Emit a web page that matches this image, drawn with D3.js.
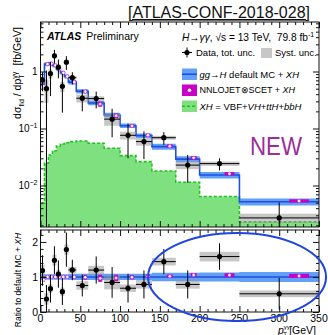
<!DOCTYPE html>
<html>
<head>
<meta charset="utf-8">
<script src="https://cdn.jsdelivr.net/npm/d3@7"></script>
<style>
  body { margin: 0; background: #fff; }
  svg { display: block; font-family: "Liberation Sans", Arial, Helvetica, sans-serif; }
</style>
</head>
<body>
<svg id="chart" width="328" height="335"></svg>
<script>
// pT(gamma gamma) bins [GeV] and values in fb/GeV
const binEdges = [0, 5, 10, 15, 20, 25, 30, 35, 45, 60, 80, 100, 120, 140, 170, 200, 250, 350];
const dataXs = [0.71, 0.50, 0.92, 1.89, 1.19, 0.55, 1.46, 0.78, 0.34, 0.335, 0.146, 0.076, 0.059, 0.069, 0.0228, 0.0242, 0.0027];
const dataTot = [0.26, 0.54, 0.55, 0.51, 0.43, 0.36, 0.40, 0.19, 0.14, 0.109, 0.076, 0.046, 0.030, 0.0173, 0.0116, 0.0058, 0.00234];
const dataSys = [0.10, 0.22, 0.17, 0.20, 0.13, 0.11, 0.12, 0.058, 0.054, 0.034, 0.034, 0.012, 0.009, 0.0053, 0.0035, 0.0021, 0.0005];
const defaultMC = [0.60, 1.35, 1.38, 1.28, 1.10, 0.95, 0.82, 0.65, 0.45, 0.28, 0.173, 0.112, 0.075, 0.048, 0.029, 0.0153, 0.0052];
const defaultMCUnc = [0.054, 0.108, 0.11, 0.10, 0.088, 0.076, 0.066, 0.058, 0.040, 0.025, 0.0156, 0.010, 0.0068, 0.0058, 0.0035, 0.002, 0.00073];
const nnlojet = [0.552, 1.35, 1.38, 1.28, 1.10, 0.95, 0.82, 0.65, 0.446, 0.269, 0.168, 0.111, 0.0765, 0.049, 0.0307, 0.0161, 0.00536];
const nnlojetUnc = [0.03, 0.027, 0.028, 0.026, 0.022, 0.019, 0.016, 0.033, 0.031, 0.028, 0.0156, 0.0067, 0.0038, 0.002, 0.0015, 0.0008, 0.0003];
const xhOther = [0.0049, 0.0245, 0.0343, 0.0408, 0.0494, 0.0536, 0.0562, 0.0588, 0.0605, 0.055, 0.045, 0.0334, 0.0262, 0.018, 0.0114, 0.0064, 0.0023];

const xTicks = [0, 50, 100, 150, 200, 250, 300, 350];
const yTopTicks = [0.01, 0.1, 1];
const yTopLabels = [["10", "\u22122"], ["10", "\u22121"], ["1", ""]];
const yRatioTicks = [0, 1, 2];

const col = {
  band: "#62a0f7", line: "#1f4fe0", green: "#7fe07f", greenLine: "#1ec41e",
  magenta: "#c800c8", syst: "#999", ellipse: "#1f45e0", newText: "#9a2f9a"
};
const NB = "\u00a0";

const svg = d3.select("#chart");
const x = d3.scaleLinear().domain([0, 350]).range([40.5, 319]);
const yTop = d3.scaleLog().domain([0.00187, 7.39]).range([227, 22]);
const yRat = d3.scaleLinear().domain([0, 2.34]).range([312, 230]);

const bins = dataXs.map((v, i) => ({ i, lo: binEdges[i], hi: binEdges[i + 1] }));
const stepPts = vals => bins.flatMap(b => [[b.lo, vals[b.i]], [b.hi, vals[b.i]]]);

const defs = svg.append("defs");
function clip(id, y) {
  defs.append("clipPath").attr("id", id).append("rect")
    .attr("x", x.range()[0]).attr("y", y.range()[1])
    .attr("width", x.range()[1] - x.range()[0])
    .attr("height", y.range()[0] - y.range()[1]);
}
clip("clipTop", yTop);
clip("clipRat", yRat);

function drawPanel(g, y, floor, P) {
  const Y = v => y(Math.max(v, floor));

  const band = bins.flatMap(b => {
    const lo = P.mc[b.i] - P.mcU[b.i], hi = P.mc[b.i] + P.mcU[b.i];
    return [[b.lo, lo, hi], [b.hi, lo, hi]];
  });
  g.append("path").datum(band)
    .attr("d", d3.area().x(d => x(d[0])).y0(d => Y(d[1])).y1(d => Y(d[2])))
    .attr("fill", col.band);
  g.append("path").datum(stepPts(P.mc))
    .attr("d", d3.line().x(d => x(d[0])).y(d => Y(d[1])))
    .attr("fill", "none").attr("stroke", col.line).attr("stroke-width", 1.6);

  // systematic boxes
  g.selectAll("rect.sys").data(bins).join("rect").attr("class", "sys")
    .attr("x", b => x(b.lo)).attr("width", b => x(b.hi) - x(b.lo))
    .attr("y", b => Y(P.data[b.i] + P.sys[b.i]))
    .attr("height", b => Y(P.data[b.i] - P.sys[b.i]) - Y(P.data[b.i] + P.sys[b.i]))
    .attr("fill", col.syst).attr("opacity", 0.55);

  // NNLOJET boxes, shifted by a quarter bin
  const nn = bins.map(b => {
    const cx = x((b.lo + b.hi) / 2 + (b.hi - b.lo) / 4);
    const hw = Math.max((x(b.hi) - x(b.lo)) / 8, 1.6);
    const y1 = Y(P.nnlo[b.i] + P.nnloU[b.i]), y0 = Y(P.nnlo[b.i] - P.nnloU[b.i]);
    const yc = Y(P.nnlo[b.i]);
    const h = Math.max(y0 - y1, 3.2);
    const top = (y0 - y1) >= 3.2 ? y1 : yc - h / 2;
    return { cx, hw, top, h, yc };
  });
  g.selectAll("rect.nn").data(nn).join("rect").attr("class", "nn")
    .attr("x", d => d.cx - d.hw).attr("width", d => 2 * d.hw)
    .attr("y", d => d.top).attr("height", d => d.h)
    .attr("fill", col.magenta);
  g.selectAll("circle.nn").data(nn).join("circle").attr("class", "nn")
    .attr("cx", d => d.cx).attr("cy", d => d.yc).attr("r", 1.6)
    .attr("fill", "#fff").attr("stroke", col.magenta).attr("stroke-width", 0.4);

  // data with total uncertainty
  g.selectAll("line.ex").data(bins).join("line").attr("class", "ex")
    .attr("x1", b => x(b.lo)).attr("x2", b => x(b.hi))
    .attr("y1", b => Y(P.data[b.i])).attr("y2", b => Y(P.data[b.i]))
    .attr("stroke", "#000").attr("stroke-width", 1);
  g.selectAll("line.ey").data(bins).join("line").attr("class", "ey")
    .attr("x1", b => x((b.lo + b.hi) / 2)).attr("x2", b => x((b.lo + b.hi) / 2))
    .attr("y1", b => Y(P.data[b.i] - P.tot[b.i])).attr("y2", b => Y(P.data[b.i] + P.tot[b.i]))
    .attr("stroke", "#000").attr("stroke-width", 1);
  g.selectAll("circle.pt").data(bins).join("circle").attr("class", "pt")
    .attr("cx", b => x((b.lo + b.hi) / 2)).attr("cy", b => Y(P.data[b.i])).attr("r", 2.6)
    .attr("fill", "#000");
}

// ---- top panel
const gTop = svg.append("g").attr("clip-path", "url(#clipTop)");
const floorTop = yTop.domain()[0];
gTop.append("path").datum(stepPts(xhOther))
  .attr("d", d3.area().x(d => x(d[0])).y0(yTop(floorTop)).y1(d => yTop(d[1])))
  .attr("fill", col.green);
gTop.append("path").datum([[0, floorTop], ...stepPts(xhOther), [350, floorTop]])
  .attr("d", d3.line().x(d => x(d[0])).y(d => yTop(d[1])))
  .attr("fill", "none").attr("stroke", col.greenLine).attr("stroke-width", 1.6)
  .attr("stroke-dasharray", "3,2");

drawPanel(gTop, yTop, floorTop, {
  mc: defaultMC, mcU: defaultMCUnc, data: dataXs, tot: dataTot, sys: dataSys,
  nnlo: nnlojet, nnloU: nnlojetUnc
});

// ---- ratio panel
const rel = arr => arr.map((v, i) => v / defaultMC[i]);
const gRat = svg.append("g").attr("clip-path", "url(#clipRat)");
drawPanel(gRat, yRat, -1, {
  mc: defaultMC.map(() => 1), mcU: rel(defaultMCUnc), data: rel(dataXs), tot: rel(dataTot),
  sys: rel(dataSys), nnlo: rel(nnlojet), nnloU: rel(nnlojetUnc)
});

// ---- frames and ticks
function frame(y) {
  svg.append("rect").attr("x", x.range()[0]).attr("y", y.range()[1])
    .attr("width", x.range()[1] - x.range()[0]).attr("height", y.range()[0] - y.range()[1])
    .attr("fill", "none").attr("stroke", "#111").attr("stroke-width", 1);
}
function addAxis(axis, tx, ty) {
  svg.append("g").attr("transform", `translate(${tx},${ty})`).call(axis)
    .call(s => s.select(".domain").remove())
    .call(s => s.selectAll("text").remove())
    .call(s => s.selectAll("line").attr("stroke", "#111"));
}
function ticks(y, yMajor, yMinor) {
  const [x0, x1] = x.range(), [yb, yt] = y.range();
  const xMinor = d3.range(0, 351, 10).filter(v => v % 50 !== 0);
  [[d3.axisBottom, yb], [d3.axisTop, yt]].forEach(([ax, ty]) => {
    addAxis(ax(x).tickValues(xTicks).tickSize(-6), 0, ty);
    addAxis(ax(x).tickValues(xMinor).tickSize(-3), 0, ty);
  });
  [[d3.axisLeft, x0], [d3.axisRight, x1]].forEach(([ax, tx]) => {
    addAxis(ax(y).tickValues(yMajor).tickSize(-6), tx, 0);
    addAxis(ax(y).tickValues(yMinor).tickSize(-3), tx, 0);
  });
}
frame(yTop);
frame(yRat);
ticks(yTop, yTopTicks, yTop.ticks().filter(v => !yTopTicks.some(t => Math.abs(t - v) / t < 1e-6)));
ticks(yRat, yRatioTicks, d3.range(0.2, 2.34, 0.2).filter(v => Math.abs(v - Math.round(v)) > 1e-6));

// ---- tick labels
yTopTicks.forEach((t, i) => {
  const tx = svg.append("text").attr("x", 37.5).attr("y", yTop(t) + 3.5)
    .attr("text-anchor", "end").attr("font-size", 10);
  tx.append("tspan").text(yTopLabels[i][0]);
  if (yTopLabels[i][1]) tx.append("tspan").attr("font-size", 7).attr("dy", -4).text(yTopLabels[i][1]);
});
yRatioTicks.forEach(t => {
  svg.append("text").attr("x", 38).attr("y", yRat(t) + 3.8).attr("text-anchor", "end")
    .attr("font-size", 10.5).text(t);
});
xTicks.forEach(t => {
  svg.append("text").attr("x", x(t)).attr("y", 321.5).attr("text-anchor", "middle")
    .attr("font-size", 10.5).text(t);
});

// ---- axis titles
const xt = svg.append("text").attr("x", 278).attr("y", 333.5).attr("font-size", 10.5);
xt.append("tspan").attr("font-style", "italic").text("p");
xt.append("tspan").attr("font-size", 6).attr("dy", -4.5).text("\u03b3\u03b3");
xt.append("tspan").attr("font-size", 6).attr("dx", -6.5).attr("dy", 6.5).text("T");
svg.append("text").attr("x", 316).attr("y", 333.5).attr("text-anchor", "end")
  .attr("font-size", 10.5).text("[GeV]");

const yt1 = svg.append("text").attr("transform", "translate(21,73) rotate(-90)")
  .attr("text-anchor", "middle").attr("font-size", 10.5);
yt1.append("tspan").text("d\u03c3");
yt1.append("tspan").attr("font-size", 7).attr("dy", 2.5).text("fid");
yt1.append("tspan").attr("dy", -2.5).text(NB + "/" + NB + "dp");
yt1.append("tspan").attr("font-size", 7).attr("dy", -4.5).text("\u03b3\u03b3");
yt1.append("tspan").attr("font-size", 7).attr("dx", -7).attr("dy", 7).text("T");
yt1.append("tspan").attr("dx", 3).attr("dy", -2.5).text(NB + NB + "[fb/GeV]");

const yt2 = svg.append("text").attr("transform", "translate(21,280) rotate(-90)")
  .attr("text-anchor", "middle").attr("font-size", 8.5);
yt2.append("tspan").text("Ratio to default MC +" + NB);
yt2.append("tspan").attr("font-style", "italic").text("XH");

// ---- title and labels
svg.append("text").attr("x", 310).attr("y", 18).attr("text-anchor", "end")
  .attr("font-size", 16).style("text-decoration", "underline").attr("fill", "#111")
  .text("[ATLAS-CONF-2018-028]");

const atl = svg.append("text").attr("x", 47).attr("y", 40).attr("font-size", 10.5);
atl.append("tspan").attr("font-weight", "bold").attr("font-style", "italic").text("ATLAS");
atl.append("tspan").attr("dx", 5).text("Preliminary");

const hdr = svg.append("text").attr("x", 182).attr("y", 41).attr("font-size", 10.2);
hdr.append("tspan").attr("font-style", "italic").text("H");
hdr.append("tspan").text("\u2192");
hdr.append("tspan").attr("font-style", "italic").text("\u03b3\u03b3");
hdr.append("tspan").text(", \u221as = 13 TeV," + NB + NB + "79.8 fb");
hdr.append("tspan").attr("font-size", 7).attr("dy", -4).text("-1");

// ---- legend
const lg = svg.append("g");
lg.append("line").attr("x1", 182).attr("x2", 192).attr("y1", 52.5).attr("y2", 52.5).attr("stroke", "#000");
lg.append("line").attr("x1", 187).attr("x2", 187).attr("y1", 47.5).attr("y2", 57.5).attr("stroke", "#000");
lg.append("circle").attr("cx", 187).attr("cy", 52.5).attr("r", 2.6).attr("fill", "#000");
lg.append("text").attr("x", 196).attr("y", 56).attr("font-size", 9.5).text("Data, tot. unc.");
lg.append("rect").attr("x", 261).attr("y", 48).attr("width", 11).attr("height", 10)
  .attr("fill", col.syst).attr("opacity", 0.55);
lg.append("text").attr("x", 275).attr("y", 56).attr("font-size", 9.5).text("Syst. unc.");

lg.append("rect").attr("x", 182).attr("y", 68.5).attr("width", 15).attr("height", 11.5).attr("fill", col.band);
lg.append("line").attr("x1", 182).attr("x2", 197).attr("y1", 74.2).attr("y2", 74.2)
  .attr("stroke", col.line).attr("stroke-width", 1.6);
const l1 = lg.append("text").attr("x", 199.5).attr("y", 77.5).attr("font-size", 9.5);
l1.append("tspan").attr("font-style", "italic").text("gg");
l1.append("tspan").text("\u2192");
l1.append("tspan").attr("font-style", "italic").text("H");
l1.append("tspan").text(NB + "default MC +" + NB);
l1.append("tspan").attr("font-style", "italic").text("XH");

lg.append("rect").attr("x", 182).attr("y", 84.5).attr("width", 15).attr("height", 11.5).attr("fill", col.magenta);
lg.append("circle").attr("cx", 189.5).attr("cy", 90.2).attr("r", 1.8).attr("fill", "#fff");
const l2 = lg.append("text").attr("x", 199.5).attr("y", 93).attr("font-size", 9);
l2.append("tspan").text("NNLOJET\u2297SCET +" + NB);
l2.append("tspan").attr("font-style", "italic").text("XH");

lg.append("rect").attr("x", 182).attr("y", 100.5).attr("width", 15).attr("height", 11.5).attr("fill", col.green);
lg.append("line").attr("x1", 182).attr("x2", 197).attr("y1", 106.2).attr("y2", 106.2)
  .attr("stroke", col.greenLine).attr("stroke-width", 1.6).attr("stroke-dasharray", "3,2");
const l3 = lg.append("text").attr("x", 199.5).attr("y", 109.5).attr("font-size", 9.5);
l3.append("tspan").attr("font-style", "italic").text("XH");
l3.append("tspan").text(NB + "=" + NB + "VBF+");
l3.append("tspan").attr("font-style", "italic").text("VH");
l3.append("tspan").text("+");
l3.append("tspan").attr("font-style", "italic").text("ttH");
l3.append("tspan").text("+");
l3.append("tspan").attr("font-style", "italic").text("bbH");

// ---- annotations
svg.append("text").attr("x", 250).attr("y", 155).attr("font-size", 25)
  .attr("textLength", 52).attr("lengthAdjust", "spacingAndGlyphs")
  .attr("fill", col.newText).text("NEW");

svg.append("ellipse").attr("cx", x(247)).attr("cy", yRat(1)).attr("rx", 89).attr("ry", 44)
  .attr("fill", "none").attr("stroke", col.ellipse).attr("stroke-width", 2);
</script>
</body>
</html>
